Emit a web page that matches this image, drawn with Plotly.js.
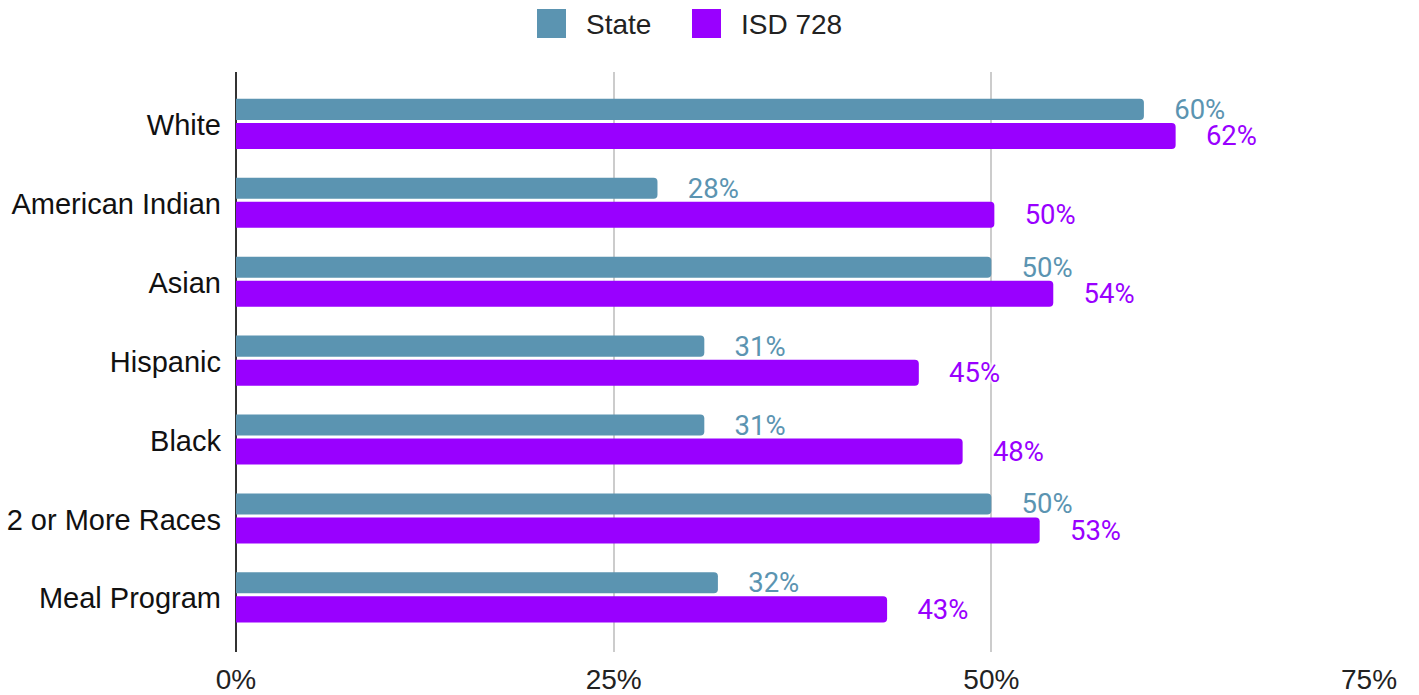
<!DOCTYPE html>
<html>
<head>
<meta charset="utf-8">
<script src="https://cdn.plot.ly/plotly-3.0.1.min.js"></script>
<style>
html,body{margin:0;padding:0;background:#fff;}
#chart{width:1419px;height:695px;}
</style>
</head>
<body>
<div id="chart"></div>
<script>
const categories = ["White", "American Indian", "Asian", "Hispanic", "Black", "2 or More Races", "Meal Program"];
const stateValues = [60.1, 27.9, 50.0, 31.0, 31.0, 50.0, 31.9];
const isdValues = [62.2, 50.2, 54.1, 45.2, 48.1, 53.2, 43.1];
const seriesNames = ["State", "ISD 728"];
const tickVals = [0, 25, 50, 75];
const tickText = ["0%", "25%", "50%", "75%"];

const stateColor = "#5b94b1";
const isdColor = "#9900ff";
const pad = "\u00a0\u00a0\u00a0\u00a0";
const halo = "0 0 3px #fff, 0 0 3px #fff, 0 0 4px #fff, 0 0 4px #fff";

const W = 1419, H = 695;
const L = 236, R = 50, T = 72, B = 43;
const pw = W - L - R, ph = H - T - B;
const px = v => (v - L) / pw;
const py = v => (H - B - v) / ph;

const traces = [
  {
    type: "bar", orientation: "h", name: seriesNames[0],
    y: categories, x: stateValues,
    offset: -0.33, width: 0.267,
    marker: {color: stateColor, cornerradius: 4},
    texttemplate: pad + "%{x:.0f}%", textposition: "outside", constraintext: "none",
    cliponaxis: false,
    textfont: {family: "Roboto, sans-serif", size: 27.5, color: stateColor, shadow: halo},
    hoverinfo: "x+y", showlegend: false
  },
  {
    type: "bar", orientation: "h", name: seriesNames[1],
    y: categories, x: isdValues,
    offset: -0.025, width: 0.33,
    marker: {color: isdColor, cornerradius: 4},
    texttemplate: pad + "%{x:.0f}%", textposition: "outside", constraintext: "none",
    cliponaxis: false,
    textfont: {family: "Roboto, sans-serif", size: 27.5, color: isdColor, shadow: halo},
    hoverinfo: "x+y", showlegend: false
  }
];

const legendFont = {family: "Liberation Sans, Arial, sans-serif", size: 28, color: "#222"};
const layout = {
  width: W, height: H,
  margin: {l: L, r: R, t: T, b: B, pad: 0},
  paper_bgcolor: "#fff", plot_bgcolor: "#fff",
  barmode: "overlay",
  showlegend: false,
  xaxis: {
    range: [0, 75], tickvals: tickVals, ticktext: tickText,
    showgrid: true, gridcolor: "#cccccc", gridwidth: 2,
    zeroline: true, zerolinecolor: "#333333", zerolinewidth: 2,
    showline: false, ticks: "", ticklabelstandoff: 8,
    tickfont: {family: "Liberation Sans, Arial, sans-serif", size: 28, color: "#222"},
    fixedrange: true
  },
  yaxis: {
    type: "category", range: [6.68, -0.67],
    showgrid: false, zeroline: false, showline: false, ticks: "",
    ticklabelstandoff: 14,
    tickfont: {family: "Liberation Sans, Arial, sans-serif", size: 29, color: "#111"},
    fixedrange: true
  },
  shapes: [
    {type: "rect", xref: "paper", yref: "paper", x0: px(537), x1: px(566), y0: py(38), y1: py(9),
     fillcolor: stateColor, line: {width: 0}},
    {type: "rect", xref: "paper", yref: "paper", x0: px(692), x1: px(721), y0: py(38), y1: py(9),
     fillcolor: isdColor, line: {width: 0}}
  ],
  annotations: [
    {xref: "paper", yref: "paper", x: px(584), y: py(24), xanchor: "left", yanchor: "middle",
     text: seriesNames[0], showarrow: false, font: legendFont},
    {xref: "paper", yref: "paper", x: px(739), y: py(24), xanchor: "left", yanchor: "middle",
     text: seriesNames[1], showarrow: false, font: legendFont}
  ]
};

Plotly.newPlot("chart", traces, layout, {displayModeBar: false, staticPlot: true});
</script>
</body>
</html>
